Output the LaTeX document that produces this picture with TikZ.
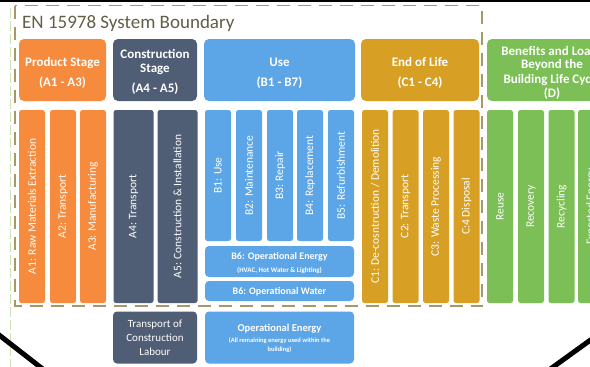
\documentclass[tikz,border=0pt]{standalone}
\usepackage{fontspec}
\setmainfont{Carlito}
\definecolor{prodC}{RGB}{246,139,62}
\definecolor{consC}{RGB}{79,93,117}
\definecolor{useC}{RGB}{92,165,230}
\definecolor{eolC}{RGB}{215,160,36}
\definecolor{benC}{RGB}{124,191,86}
\definecolor{bndC}{RGB}{168,151,104}
\definecolor{titleC}{RGB}{98,94,72}
\definecolor{guideC}{RGB}{205,225,178}
\tikzset{
  header/.style={rounded corners=5pt, inner sep=0pt, minimum height=62pt},
  hdtext/.style={anchor=base, inner sep=0pt, text=white, font=\bfseries\fontsize{13}{13}\selectfont},
  stagecol/.style={rotate=90, rounded corners=2.5pt, inner sep=0pt, text=white,
    font=\fontsize{11.5}{11.5}\selectfont},
  panel/.style={rounded corners=4pt, inner sep=0pt},
  smalltext/.style={anchor=base, inner sep=0pt, text=white},
  frameline/.style={line width=5pt, black},
}
\begin{document}
\begin{tikzpicture}[x=1pt, y=-1pt]
\useasboundingbox (0,0) rectangle (590,367);
\clip (0,0) rectangle (590,367);
\fill[white] (0,0) rectangle (590,367);

% faint guide line on the left edge
\draw[guideC, line width=1pt, dash pattern=on 10pt off 3pt] (10,8) -- (10,367);

% title
\node[anchor=base west, inner sep=0pt, text=titleC, font=\fontsize{19}{19}\selectfont] (title) at (22,28) {EN 15978 System Boundary};

% stage headers
\node[header, fill=prodC, minimum width=87pt] (hA) at (62.5,70) {};
\node[hdtext] (hA1) at (62.5,66) {Product Stage};
\node[hdtext] (hA2) at (62.5,86) {(A1 - A3)};

\node[header, fill=consC, minimum width=84pt] (hAc) at (155,70) {};
\node[hdtext] (hAc1) at (155,58) {Construction};
\node[hdtext] (hAc2) at (155,72.5) {Stage};
\node[hdtext] (hAc3) at (155,92) {(A4 - A5)};

\node[header, fill=useC, minimum width=151pt] (hB) at (279.5,70) {};
\node[hdtext] (hB1) at (279.5,66) {Use};
\node[hdtext] (hB2) at (279.5,86) {(B1 - B7)};

\node[header, fill=eolC, minimum width=118pt] (hC) at (420,70) {};
\node[hdtext] (hC1) at (420,66) {End of Life};
\node[hdtext] (hC2) at (420,86) {(C1 - C4)};

\node[header, fill=benC, minimum width=130pt] (hD) at (552,70) {};
\node[hdtext] (hD1) at (552,55) {Benefits and Loads};
\node[hdtext] (hD2) at (552,68.5) {Beyond the};
\node[hdtext] (hD3) at (552,83) {Building Life Cycle};
\node[hdtext] (hD4) at (552,97.5) {(D)};

% module columns
\node[stagecol, fill=prodC, minimum width=193pt, minimum height=26pt] (a1) at (32,206.5) {A1: Raw Materials Extraction};
\node[stagecol, fill=prodC, minimum width=193pt, minimum height=26pt] (a2) at (63,206.5) {A2: Transport};
\node[stagecol, fill=prodC, minimum width=193pt, minimum height=26pt] (a3) at (93,206.5) {A3: Manufacturing};

\node[stagecol, fill=consC, minimum width=193pt, minimum height=40pt] (a4) at (133.5,206.5) {A4: Transport};
\node[stagecol, fill=consC, minimum width=193pt, minimum height=40pt] (a5) at (177.5,206.5) {A5: Construction \& Installation};

\node[stagecol, fill=useC, minimum width=131pt, minimum height=26pt] (b1) at (218,175.5) {B1: Use};
\node[stagecol, fill=useC, minimum width=131pt, minimum height=26pt] (b2) at (249,175.5) {B2: Maintenance};
\node[stagecol, fill=useC, minimum width=131pt, minimum height=26pt] (b3) at (280,175.5) {B3: Repair};
\node[stagecol, fill=useC, minimum width=131pt, minimum height=26pt] (b4) at (310,175.5) {B4: Replacement};
\node[stagecol, fill=useC, minimum width=131pt, minimum height=26pt] (b5) at (341,175.5) {B5: Refurbishment};

\node[panel, fill=useC, minimum width=149pt, minimum height=31pt] (b6e) at (279.5,261.5) {};
\node[smalltext, font=\bfseries\fontsize{10}{10}\selectfont] (b6e1) at (279.5,259) {B6: Operational Energy};
\node[smalltext, font=\bfseries\fontsize{7}{7}\selectfont] (b6e2) at (279.5,272) {(HVAC, Hot Water \& Lighting)};

\node[panel, fill=useC, minimum width=149pt, minimum height=20pt] (b6w) at (279.5,291) {};
\node[smalltext, font=\bfseries\fontsize{10}{10}\selectfont] (b6w1) at (279.5,294.5) {B6: Operational Water};

\node[stagecol, fill=eolC, minimum width=193pt, minimum height=26pt] (c1) at (375,206.5) {C1: De-cosntruction / Demolition};
\node[stagecol, fill=eolC, minimum width=193pt, minimum height=26pt] (c2) at (405.5,206.5) {C2: Transport};
\node[stagecol, fill=eolC, minimum width=193pt, minimum height=26pt] (c3) at (436,206.5) {C3: Waste Processing};
\node[stagecol, fill=eolC, minimum width=193pt, minimum height=26pt] (c4) at (466.5,206.5) {C:4 Disposal};

\node[stagecol, fill=benC, minimum width=193pt, minimum height=26pt] (d1) at (500,206.5) {Reuse};
\node[stagecol, fill=benC, minimum width=193pt, minimum height=26pt] (d2) at (531,206.5) {Recovery};
\node[stagecol, fill=benC, minimum width=193pt, minimum height=26pt] (d3) at (561.5,206.5) {Recycling};
\node[stagecol, fill=benC, minimum width=193pt, minimum height=26pt] (d4) at (591,206.5) {Exported Energy};

% system boundary
\draw[bndC, line width=1.8pt, dash pattern=on 13pt off 8pt] (15,5.5) rectangle (482,306);

% items outside the boundary
\node[panel, fill=consC, minimum width=84pt, minimum height=52pt] (tcl) at (155,337.5) {};
\node[smalltext, font=\fontsize{11}{11}\selectfont] (tcl1) at (155,327.5) {Transport of};
\node[smalltext, font=\fontsize{11}{11}\selectfont] (tcl2) at (155,341.5) {Construction};
\node[smalltext, font=\fontsize{11}{11}\selectfont] (tcl3) at (155,355.5) {Labour};

\node[panel, fill=useC, minimum width=149pt, minimum height=52pt] (oe) at (279.5,337.5) {};
\node[smalltext, font=\bfseries\fontsize{10.5}{10.5}\selectfont] (oe1) at (279.5,331) {Operational Energy};
\node[smalltext, font=\bfseries\fontsize{6.5}{6.5}\selectfont] (oe2) at (279.5,342.5) {(All remaining energy used within the};
\node[smalltext, font=\bfseries\fontsize{6.5}{6.5}\selectfont] (oe3) at (279.5,351.5) {building)};

% frame edges
\fill[black] (0,0) rectangle (590,2);
\coordinate (fl1) at (-6,331);
\coordinate (fl2) at (44,370);
\coordinate (fr1) at (549,370);
\coordinate (fr2) at (596,336);
\draw[frameline] (fl1) -- (fl2);
\draw[frameline] (fr1) -- (fr2);
\end{tikzpicture}
\end{document}
